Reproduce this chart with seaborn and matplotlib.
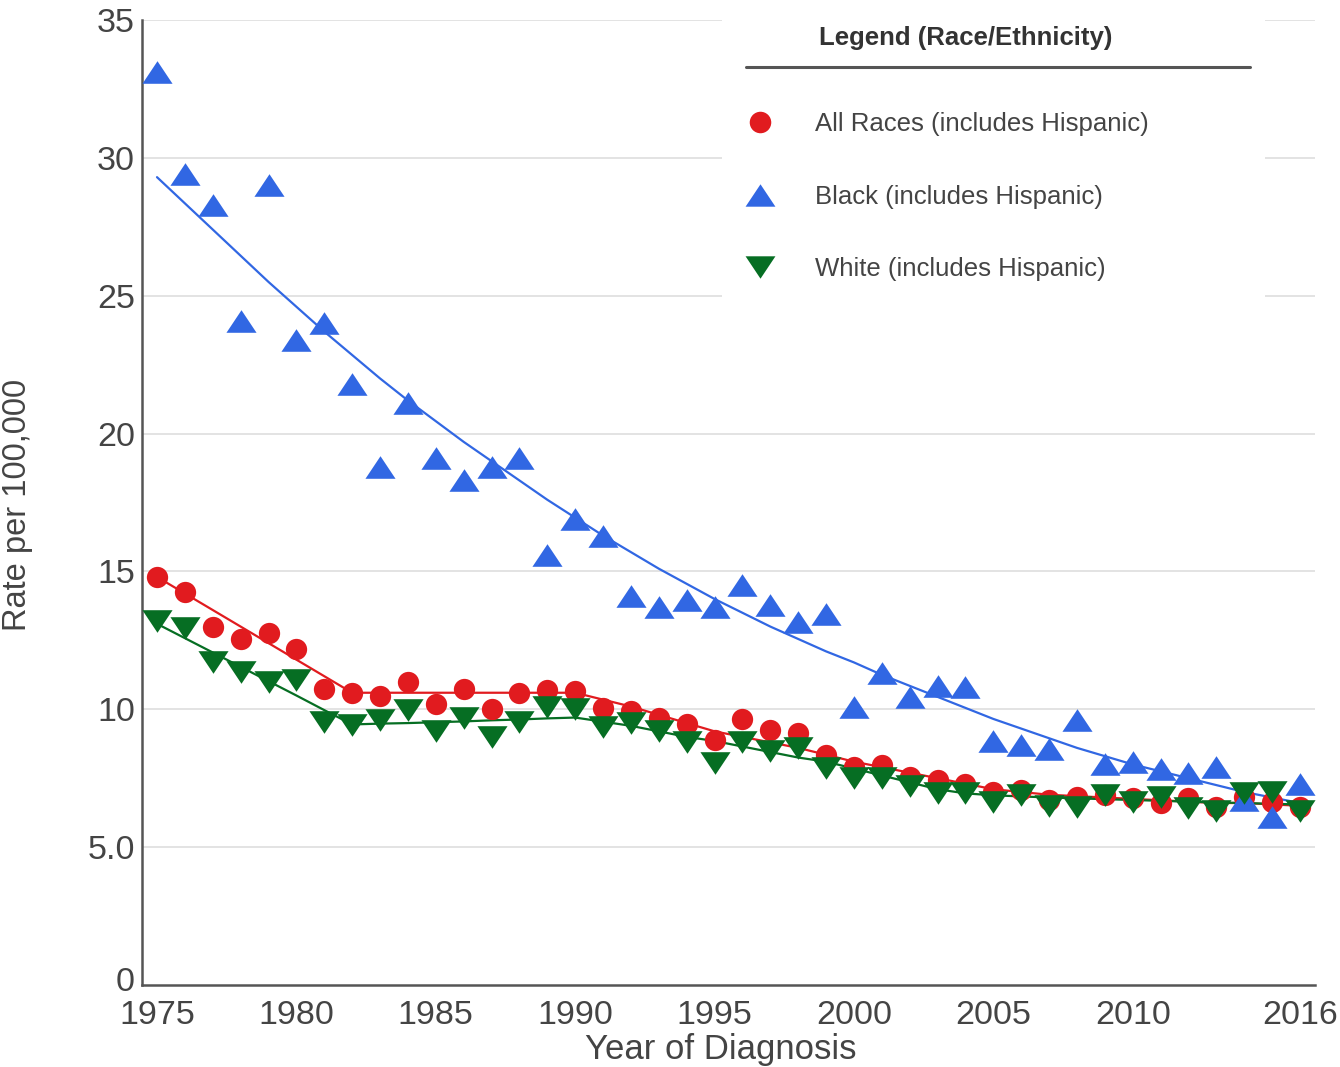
import numpy as np
import pandas as pd
import matplotlib
matplotlib.use("Agg")
import matplotlib.pyplot as plt
import matplotlib.transforms as mtransforms
import seaborn as sns
from matplotlib.path import Path
from matplotlib.patches import Rectangle
from matplotlib.lines import Line2D

years = list(range(1975, 2017))

all_races = [14.8, 14.25, 13.0, 12.55, 12.75, 12.2, 10.75, 10.6, 10.5, 11.0,
             10.2, 10.75, 10.0, 10.6, 10.7, 10.65, 10.05, 9.95, 9.7, 9.47,
             8.9, 9.65, 9.25, 9.15, 8.35, 7.9, 7.97, 7.55, 7.43, 7.3,
             7.0, 7.07, 6.7, 6.83, 6.9, 6.78, 6.6, 6.78, 6.47, 6.83,
             6.65, 6.47]
black = [33.1, 29.4, 28.3, 24.1, 29.0, 23.4, 24.0, 21.8, 18.8, 21.1,
         19.1, 18.3, 18.8, 19.1, 15.6, 16.9, 16.3, 14.1, 13.7, 13.95,
         13.7, 14.5, 13.8, 13.15, 13.45, 10.1, 11.3, 10.45, 10.85, 10.8,
         8.85, 8.7, 8.55, 9.6, 8.0, 8.1, 7.85, 7.7, 7.9, 6.7,
         6.1, 7.3]
white = [13.2, 12.95, 11.7, 11.35, 11.0, 11.05, 9.55, 9.43, 9.6, 9.97,
         9.2, 9.7, 9.0, 9.55, 10.1, 10.0, 9.35, 9.5, 9.2, 8.8,
         8.05, 8.8, 8.5, 8.6, 7.87, 7.5, 7.5, 7.2, 6.95, 6.95,
         6.65, 6.9, 6.5, 6.47, 6.9, 6.65, 6.83, 6.42, 6.3, 6.95,
         7.0, 6.3]

all_trend = [14.8, 14.2, 13.6, 13.0, 12.4, 11.8, 11.2, 10.6, 10.6, 10.6,
             10.6, 10.6, 10.6, 10.6, 10.6, 10.6, 10.35, 10.1, 9.8, 9.5,
             9.2, 9.0, 8.8, 8.6, 8.35, 8.1, 7.9, 7.7, 7.5, 7.3,
             7.1, 7.0, 6.9, 6.85, 6.8, 6.75, 6.7, 6.65, 6.6, 6.6,
             6.55, 6.5]
black_trend = [29.3, 28.35, 27.4, 26.45, 25.5, 24.6, 23.7, 22.85, 22.0, 21.2,
               20.45, 19.7, 19.0, 18.3, 17.6, 16.95, 16.3, 15.7, 15.1, 14.55,
               14.0, 13.5, 13.0, 12.55, 12.1, 11.7, 11.25, 10.85, 10.45, 10.05,
               9.65, 9.3, 8.95, 8.6, 8.3, 8.0, 7.75, 7.5, 7.25, 7.0,
               6.8, 6.6]
white_trend = [13.1, 12.58, 12.06, 11.54, 11.02, 10.5, 9.97, 9.45, 9.48, 9.5,
               9.53, 9.56, 9.6, 9.63, 9.67, 9.7, 9.55, 9.4, 9.2, 9.0,
               8.85, 8.65, 8.45, 8.25, 8.1, 7.85, 7.6, 7.35, 7.1, 6.95,
               6.88, 6.84, 6.8, 6.77, 6.74, 6.71, 6.68, 6.65, 6.62, 6.6,
               6.57, 6.55]

series_names = ["All Races (includes Hispanic)",
                "Black (includes Hispanic)",
                "White (includes Hispanic)"]
colors = ["#E11B1F", "#3167E3", "#066E23"]

x_ticks = [1975, 1980, 1985, 1990, 1995, 2000, 2005, 2010, 2016]
y_ticks = [0, 5, 10, 15, 20, 25, 30, 35]
y_tick_labels = ["0", "5.0", "10", "15", "20", "25", "30", "35"]

obs = pd.DataFrame({
    "year": years * 3,
    "rate": all_races + black + white,
    "series": sum([[n] * len(years) for n in series_names], []),
})
trend = pd.DataFrame({
    "year": years * 3,
    "rate": all_trend + black_trend + white_trend,
    "series": sum([[n] * len(years) for n in series_names], []),
})

sns.set_theme(style="white")
plt.rcParams["font.family"] = ["Liberation Sans", "DejaVu Sans"]

W, H = 1340, 1067
fig = plt.figure(figsize=(W / 100, H / 100), dpi=100)
L, R, T, B = 142, 1315, 20, 985
ax = fig.add_axes([L / W, 1 - B / H, (R - L) / W, (B - T) / H])

# horizontal grid
for v in y_ticks[1:]:
    ax.axhline(v, color="#e3e3e3", lw=1.4, zorder=0)

palette = dict(zip(series_names, colors))
sns.lineplot(data=trend, x="year", y="rate", hue="series", palette=palette,
             lw=1.6, ax=ax, legend=False, zorder=2)

up = Path([(0, 0.75), (-1, -0.75), (1, -0.75), (0, 0.75)],
          [Path.MOVETO, Path.LINETO, Path.LINETO, Path.CLOSEPOLY])
down = Path([(0, -0.75), (-1, 0.75), (1, 0.75), (0, -0.75)],
            [Path.MOVETO, Path.LINETO, Path.LINETO, Path.CLOSEPOLY])
markers = ["o", up, down]
sizes = [235, 470, 470]

for name, m, s in zip(series_names, markers, sizes):
    sub = obs[obs["series"] == name]
    sns.scatterplot(data=sub, x="year", y="rate", color=palette[name],
                    marker=m, s=s, linewidth=0, ax=ax, legend=False, zorder=3)

ax.set_xlim(1975 - 15 / 27.88, 2016 + 15 / 27.88)
ax.set_ylim(0, 35)
ax.set_xticks(x_ticks)
ax.set_xticklabels([str(t) for t in x_ticks])
ax.set_yticks(y_ticks)
ax.set_yticklabels(y_tick_labels)
ax.tick_params(axis="both", length=0, labelsize=24.5, labelcolor="#444444")
ax.tick_params(axis="x", pad=11)
ax.tick_params(axis="y", pad=5)
ax.set_xlabel("")
ax.set_ylabel("")
for sp in ["top", "right"]:
    ax.spines[sp].set_visible(False)
for sp in ["left", "bottom"]:
    ax.spines[sp].set_color("#555555")
    ax.spines[sp].set_linewidth(1.8)

# nudge the "0" label up slightly so it clears the x tick labels
zero_lbl = ax.get_yticklabels()[0]
zero_lbl.set_transform(zero_lbl.get_transform() +
                       mtransforms.ScaledTranslation(0, 6 / 100, fig.dpi_scale_trans))

fig.text(721 / W, 1 - 1050 / H, "Year of Diagnosis", ha="center", va="center",
         fontsize=25, color="#444444")
fig.text(18 / W, 1 - 505 / H, "Rate per 100,000", ha="center", va="center",
         rotation=90, fontsize=23.5, color="#444444")

# Legend box
fig.add_artist(Rectangle((722 / W, 1 - 302 / H), (1265 - 722) / W, 300 / H,
                         transform=fig.transFigure, facecolor="white",
                         edgecolor="none", zorder=5))
fig.text(966 / W, 1 - 38 / H, "Legend (Race/Ethnicity)", ha="center",
         va="center", fontsize=18.5, fontweight="bold", color="#333333",
         zorder=6)
fig.add_artist(Line2D([746 / W, 1250 / W], [1 - 67 / H, 1 - 67 / H],
                      transform=fig.transFigure, color="#555555", lw=2.2,
                      zorder=6))
rows = [122, 195, 267]
leg_sizes = [15.5, 21.5, 21.5]
for name, m, ms, yy in zip(series_names, markers, leg_sizes, rows):
    fig.add_artist(Line2D([760 / W], [1 - yy / H], transform=fig.transFigure,
                          marker=m, markersize=ms, color=palette[name],
                          markeredgewidth=0, linestyle="none", zorder=6))
    fig.text(815 / W, 1 - (yy + 2) / H, name, ha="left", va="center",
             fontsize=18.5, color="#444444", zorder=6)

fig.savefig("out.png", dpi=100)
